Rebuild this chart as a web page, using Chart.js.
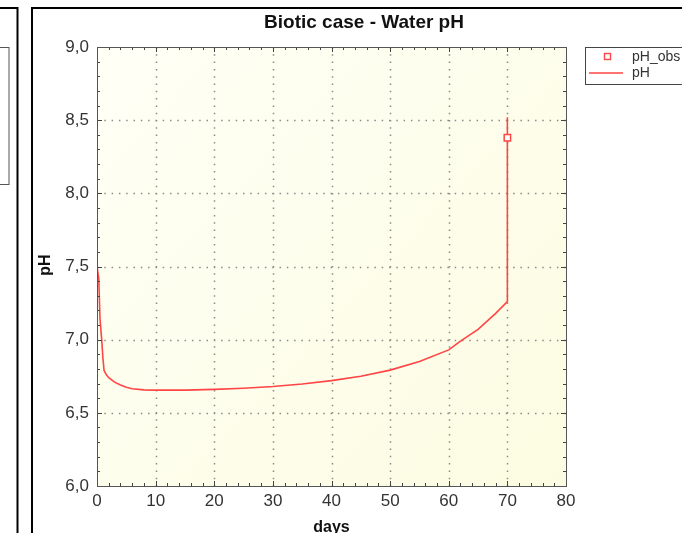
<!DOCTYPE html>
<html><head><meta charset="utf-8">
<script src="https://cdn.jsdelivr.net/npm/chart.js@4"></script>
<style>html,body{margin:0;padding:0;background:#fff;overflow:hidden}#wrap{position:relative;width:682px;height:533px}</style>
</head><body><div id="wrap"><canvas id="c" width="682" height="533"></canvas></div>
<script>
const chartTitle = "Biotic case - Water pH";
const xTitle = "days";
const yTitle = "pH";
const simLabel = "pH";
const obsLabel = "pH_obs";
const simDays = [0, 0.3, 0.5, 0.8, 1.0, 1.2, 1.6, 2, 3, 4, 5, 6, 8, 10, 15, 20, 25, 30, 35, 40, 45, 50, 55, 60, 62, 65, 68, 70, 70];
const simPH   = [7.5, 7.42, 7.15, 7.0, 6.88, 6.79, 6.76, 6.74, 6.71, 6.69, 6.675, 6.665, 6.657, 6.655, 6.655, 6.66, 6.668, 6.68, 6.697, 6.72, 6.75, 6.792, 6.85, 6.93, 6.99, 7.07, 7.18, 7.26, 8.52];
const obsDays = [70];
const obsPH   = [8.38];
const xMajor = [0, 10, 20, 30, 40, 50, 60, 70, 80];
const yMajor = [6.0, 6.5, 7.0, 7.5, 8.0, 8.5, 9.0];

const red = '#ff4545';
const FONT = '"Liberation Sans", Arial, sans-serif';
const sim = simDays.map((d, i) => ({x: d, y: simPH[i]}));
const obs = obsDays.map((d, i) => ({x: d, y: obsPH[i]}));

const deco = {
  id: 'deco',
  beforeDraw(chart) {
    const ctx = chart.ctx, a = chart.chartArea;
    ctx.save();
    ctx.fillStyle = '#fff';
    ctx.fillRect(0, 0, chart.width, chart.height);
    ctx.strokeStyle = '#000'; ctx.lineWidth = 2;
    ctx.beginPath();
    ctx.moveTo(32, 533); ctx.lineTo(32, 8); ctx.lineTo(682, 8);
    ctx.moveTo(0, 8); ctx.lineTo(17.5, 8); ctx.lineTo(17.5, 533);
    ctx.stroke();
    ctx.strokeStyle = '#555'; ctx.lineWidth = 1;
    ctx.strokeRect(-2, 47.5, 11, 137);
    const g = ctx.createLinearGradient(a.left, a.top, a.right, a.bottom);
    g.addColorStop(0, '#fffff6');
    g.addColorStop(1, '#fcfce2');
    ctx.fillStyle = g;
    ctx.fillRect(a.left, a.top, a.right - a.left, a.bottom - a.top);
    ctx.restore();
  },
  beforeDatasetsDraw(chart) {
    const ctx = chart.ctx, a = chart.chartArea, xs = chart.scales.x, ys = chart.scales.y;
    ctx.save();
    ctx.strokeStyle = '#8a8a8a'; ctx.lineWidth = 1.5; ctx.setLineDash([1.5, 5.8]);
    ctx.beginPath();
    xMajor.slice(1, -1).forEach(v => { const p = Math.round(xs.getPixelForValue(v)) + 0.5; ctx.moveTo(p, a.top); ctx.lineTo(p, a.bottom); });
    yMajor.slice(1, -1).forEach(v => { const p = Math.round(ys.getPixelForValue(v)) + 0.5; ctx.moveTo(a.left, p); ctx.lineTo(a.right, p); });
    ctx.stroke();
    ctx.restore();
  },
  afterDatasetsDraw(chart) {
    const ctx = chart.ctx, a = chart.chartArea, xs = chart.scales.x, ys = chart.scales.y;
    ctx.save();
    ctx.strokeStyle = '#444'; ctx.lineWidth = 1;
    ctx.beginPath();
    for (let v = 0; v <= 80; v += 2) {
      const p = Math.round(xs.getPixelForValue(v)) + 0.5;
      const L = v % 10 === 0 ? 5 : 3;
      ctx.moveTo(p, a.bottom); ctx.lineTo(p, a.bottom - L);
      ctx.moveTo(p, a.top); ctx.lineTo(p, a.top + L);
    }
    for (let k = 0; k <= 30; k++) {
      const v = 6 + k * 0.1;
      const p = Math.round(ys.getPixelForValue(v)) + 0.5;
      const L = k % 5 === 0 ? 5 : 3;
      ctx.moveTo(a.left, p); ctx.lineTo(a.left + L, p);
      ctx.moveTo(a.right, p); ctx.lineTo(a.right - L, p);
    }
    ctx.stroke();
    ctx.strokeStyle = '#555';
    ctx.strokeRect(Math.round(a.left) + 0.5, Math.round(a.top) + 0.5, Math.round(a.right - a.left), Math.round(a.bottom - a.top));
    ctx.restore();
  },
  afterDraw(chart) {
    const ctx = chart.ctx, a = chart.chartArea;
    ctx.save();
    ctx.fillStyle = '#111';
    ctx.font = 'bold 19px ' + FONT;
    ctx.textAlign = 'center'; ctx.textBaseline = 'middle';
    ctx.fillText(chartTitle, 364, 23);
    ctx.font = 'bold 16px ' + FONT;
    ctx.fillText(xTitle, (a.left + a.right) / 2, 528);
    ctx.translate(46, 265); ctx.rotate(-Math.PI / 2);
    ctx.fillText(yTitle, 0, 0);
    ctx.restore();
    ctx.save();
    ctx.fillStyle = '#fff';
    ctx.fillRect(585, 47, 110, 37);
    ctx.strokeStyle = '#444'; ctx.lineWidth = 1;
    ctx.strokeRect(585.5, 47.5, 110, 37);
    ctx.strokeStyle = red; ctx.lineWidth = 1.4;
    ctx.strokeRect(604.5, 53.5, 6, 6);
    ctx.beginPath(); ctx.moveTo(589, 73); ctx.lineTo(623, 73); ctx.stroke();
    ctx.fillStyle = '#333';
    ctx.font = '14px ' + FONT;
    ctx.textAlign = 'left'; ctx.textBaseline = 'middle';
    ctx.fillText(obsLabel, 632, 57);
    ctx.fillText(simLabel, 632, 73);
    ctx.restore();
  }
};

new Chart(document.getElementById('c'), {
  type: 'line',
  data: {
    datasets: [
      {label: simLabel, data: sim, borderColor: red, borderWidth: 1.6, pointRadius: 0, tension: 0, fill: false, order: 2},
      {label: obsLabel, data: obs, showLine: false, pointStyle: 'rect', pointRadius: 4.5, borderColor: red, backgroundColor: '#fff', pointBorderWidth: 1.5, order: 1}
    ]
  },
  options: {
    responsive: false, animation: false, devicePixelRatio: 1,
    layout: {padding: {top: 47, right: 116, left: 0, bottom: 0}},
    plugins: {legend: {display: false}, title: {display: false}, tooltip: {enabled: false}},
    scales: {
      x: {
        type: 'linear', min: 0, max: 80,
        afterFit(s) { s.height = 47; },
        grid: {display: false, drawTicks: false}, border: {display: false},
        ticks: {stepSize: 10, padding: 5, maxRotation: 0, color: '#333', font: {family: FONT, size: 17}, callback: v => String(v)}
      },
      y: {
        type: 'linear', min: 6, max: 9,
        afterFit(s) { s.width = 97; },
        grid: {display: false, drawTicks: false}, border: {display: false},
        ticks: {stepSize: 0.5, padding: 8, color: '#333', font: {family: FONT, size: 17}, callback: v => v.toFixed(1).replace('.', ',')}
      }
    }
  },
  plugins: [deco]
});
</script></body></html>
